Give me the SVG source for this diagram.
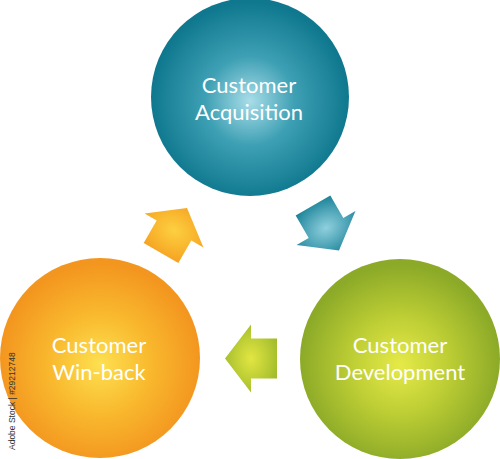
<svg xmlns="http://www.w3.org/2000/svg" width="500" height="459" viewBox="0 0 500 459">
<defs>
<radialGradient id="gTeal" cx="0.5" cy="0.52" r="0.5">
<stop offset="0" stop-color="#a9dde8"/>
<stop offset="0.45" stop-color="#3ea0b4"/>
<stop offset="1" stop-color="#0f788e"/>
</radialGradient>
<radialGradient id="gGreen" cx="0.5" cy="0.53" r="0.5">
<stop offset="0" stop-color="#e6ea48"/>
<stop offset="0.5" stop-color="#bccd34"/>
<stop offset="1" stop-color="#8caa28"/>
</radialGradient>
<radialGradient id="gOrange" cx="0.5" cy="0.53" r="0.5">
<stop offset="0" stop-color="#fde050"/>
<stop offset="0.5" stop-color="#f9b92e"/>
<stop offset="1" stop-color="#f3961f"/>
</radialGradient>
<radialGradient id="aTeal" cx="0.5" cy="0.5" r="0.6">
<stop offset="0" stop-color="#8fd0de"/>
<stop offset="1" stop-color="#167f95"/>
</radialGradient>
<radialGradient id="aGreen" cx="0.5" cy="0.5" r="0.6">
<stop offset="0" stop-color="#e2e642"/>
<stop offset="1" stop-color="#9cb82a"/>
</radialGradient>
<radialGradient id="aOrange" cx="0.5" cy="0.5" r="0.6">
<stop offset="0" stop-color="#fdd040"/>
<stop offset="1" stop-color="#f5a020"/>
</radialGradient>
<polygon id="arrow" points="26,0 0,34 0,20 -26,20 -26,-20 0,-20 0,-34"/>
</defs>
<style>
.lbl{font-family:Lato,"Open Sans",sans-serif;font-size:22px;fill:#ffffff;text-anchor:middle}
.wm{font-family:"Liberation Sans",Arial,sans-serif;font-size:8.5px;fill:#333333}
</style>
<rect width="500" height="459" fill="#ffffff"/>
<g id="connectors">
<use href="#arrow" fill="url(#aTeal)" transform="translate(326,228) rotate(60)"/>
<use href="#arrow" fill="url(#aGreen)" transform="translate(251,358.5) rotate(180)"/>
<use href="#arrow" fill="url(#aOrange)" transform="translate(174,230.5) rotate(-60)"/>
</g>
<g id="acquisition">
<circle cx="250" cy="97" r="99" fill="url(#gTeal)"/>
<text class="lbl" x="249" y="93">Customer</text>
<text class="lbl" x="249" y="120">Acquisition</text>
</g>
<g id="development">
<circle cx="400" cy="359" r="100" fill="url(#gGreen)"/>
<text class="lbl" x="400" y="353">Customer</text>
<text class="lbl" x="400" y="380">Development</text>
</g>
<g id="winback">
<circle cx="100" cy="358" r="100" fill="url(#gOrange)"/>
<text class="lbl" x="99" y="353">Customer</text>
<text class="lbl" x="99" y="380">Win-back</text>
</g>
<text class="wm" transform="translate(15,450) rotate(-90)">Adobe Stock | #29212748</text>
</svg>
